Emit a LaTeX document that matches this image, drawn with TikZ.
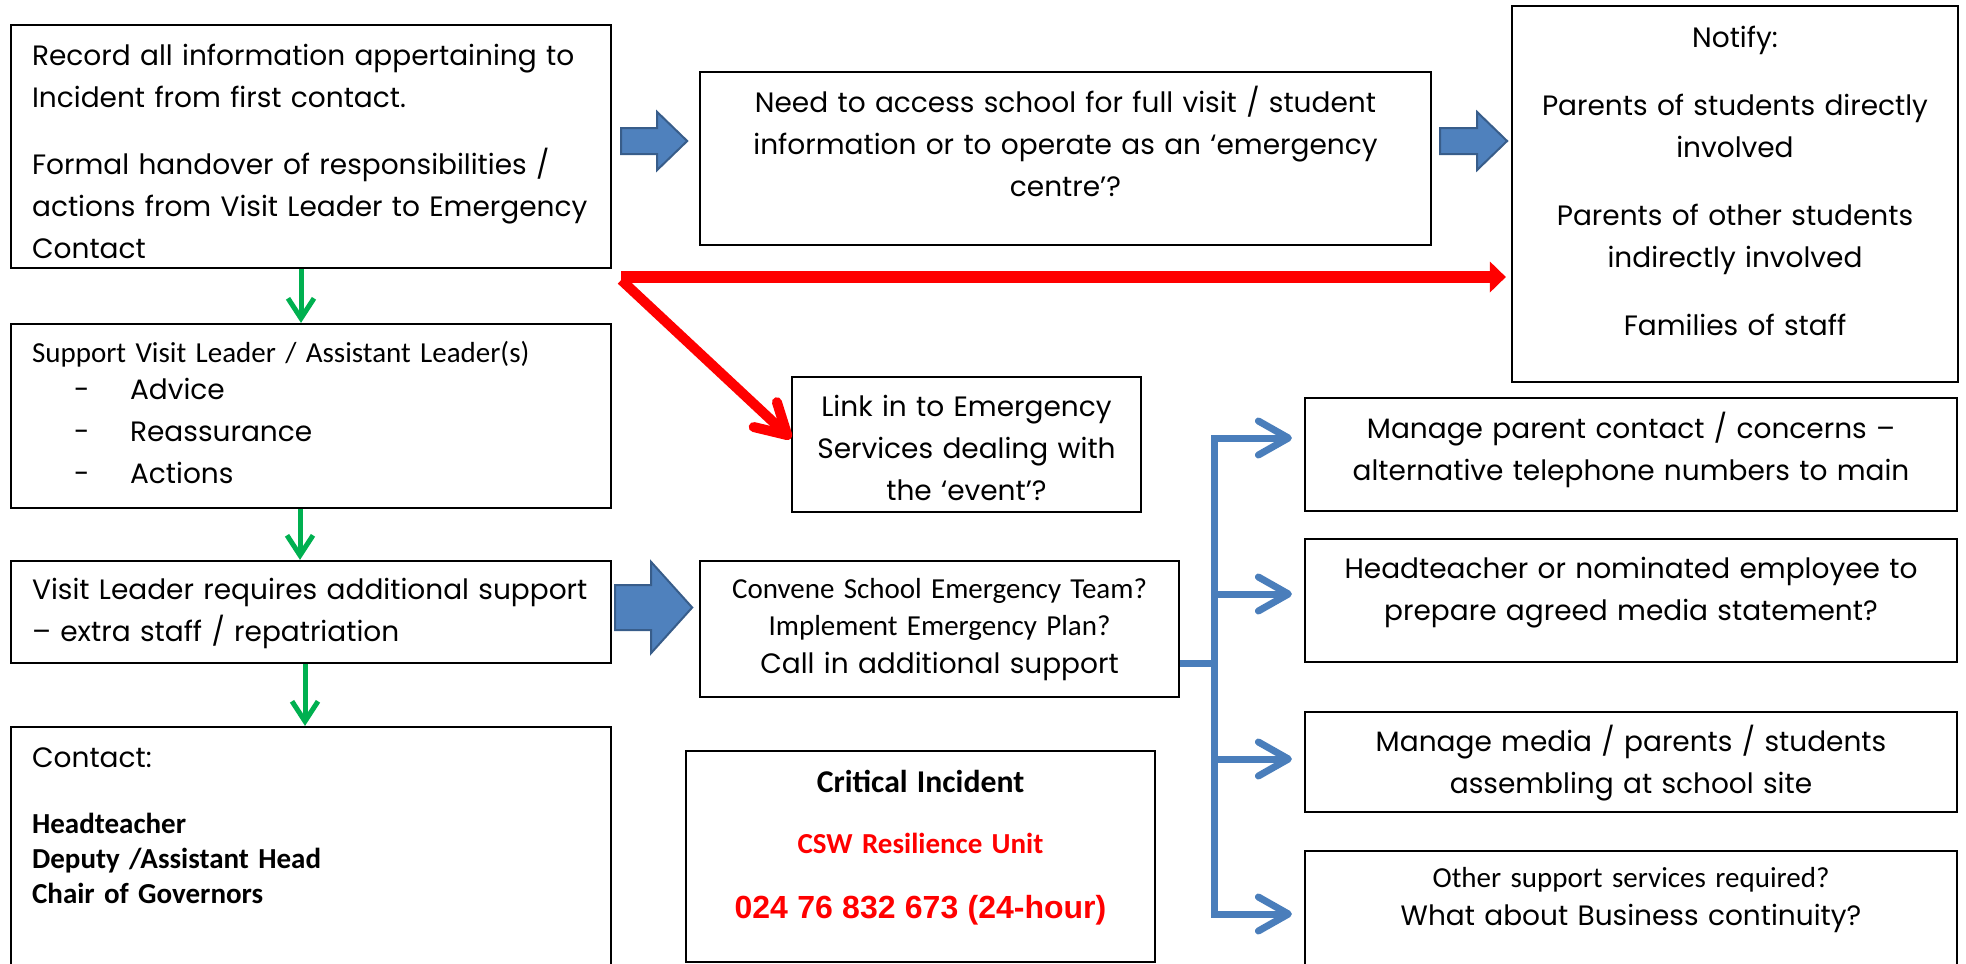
\documentclass[tikz,border=0pt]{standalone}
\usepackage{fontspec}
\setmainfont{Poppins}
\newfontfamily\calibfont{Carlito}
\newfontfamily\arialfont{Liberation Sans}
\usetikzlibrary{arrows.meta}

\definecolor{blockblue}{HTML}{4F81BD}
\definecolor{blockedge}{HTML}{385D8A}
\definecolor{linkblue}{HTML}{4A7EBB}
\definecolor{arrowgreen}{HTML}{00B050}
\definecolor{alarmred}{HTML}{FF0000}

\newcommand\gothic{\fontsize{28}{42}\selectfont}
\newcommand\calib{\calibfont\fontsize{29}{42}\selectfont}

\begin{document}
\begin{tikzpicture}[
        x=1pt, y=-1pt,
        box/.style={draw, line width=2.2pt, inner ysep=0pt, font=\gothic},
        lbox/.style={box, align=left, anchor=base west, inner xsep=21pt, text width=558pt},
        cbox/.style={box, align=center, anchor=base, inner xsep=10pt},
        blockarrow/.style={fill=blockblue, draw=blockedge, line width=2pt, line join=miter},
        greenarrow/.style={draw=arrowgreen, line width=5pt, -{Straight Barb[length=20pt,width=26pt]}},
        bluelink/.style={draw=linkblue, line width=7pt},
        bluearrow/.style={bluelink, -{Straight Barb[length=30pt,width=34pt,round]}},
        redarrow/.style={draw=alarmred, line width=12pt, -{Triangle[length=16pt,width=30pt]}},
        reddiag/.style={draw=alarmred, line width=10pt, -{Straight Barb[length=30pt,width=34pt,round]}}
      ]
      \useasboundingbox (0,0) rectangle (1966,964);

      % left column
      \node[lbox, text height=40pt, text depth=203pt] (rec) at (10,65)
        {Record all information appertaining to\\Incident from first contact.\\[25pt]
         Formal handover of responsibilities /\\actions from Visit Leader to Emergency\\Contact};
      \node[lbox, text height=38pt, text depth=146pt] (sup) at (10,362)
        {{\calib Support Visit Leader / Assistant Leader(s)}\\[-5pt]
         \hspace*{42pt}\makebox[56pt][l]{-}Advice\\
         \hspace*{42pt}\makebox[56pt][l]{-}Reassurance\\
         \hspace*{42pt}\makebox[56pt][l]{-}Actions};
      \node[lbox, text height=38pt, text depth=64pt] (vlr) at (10,599)
        {Visit Leader requires additional support\\– extra staff / repatriation};
      \node[lbox, text height=40pt, text depth=223pt] (contact) at (10,767)
        {Contact:\\[31pt]
         {\calibfont\bfseries\fontsize{29}{35}\selectfont Headteacher\\Deputy /Assistant Head\\Chair of Governors\par}};

      % middle column
      \node[cbox, text width=711pt, text height=40pt, text depth=133pt] (acc) at (1065.5,112)
        {Need to access school for full visit / student\\information or to operate as an ‘emergency\\centre’?};
      \node[cbox, text width=329pt, text height=39pt, text depth=96pt] (link) at (966.5,416)
        {Link in to Emergency\\Services dealing with\\the ‘event’?};
      \node[cbox, text width=459pt, text height=37pt, text depth=99pt] (conv) at (939.5,598)
        {{\calib Convene School Emergency Team?}\\[-5pt]
         {\calib Implement Emergency Plan?}\\[-4pt]
         Call in additional support};
      \node[cbox, text width=449pt, text height=41pt, text depth=170pt] (crit) at (920.5,792)
        {{\calibfont\bfseries\fontsize{31.7}{42}\selectfont Critical Incident}\\[19pt]
         {\calibfont\bfseries\fontsize{29}{42}\selectfont\color{alarmred}CSW Resilience Unit}\\[23pt]
         {\arialfont\bfseries\fontsize{32}{42}\selectfont\color{alarmred}024 76 832 673 (24-hour)}};

      % right column
      \node[cbox, text width=426pt, text height=41pt, text depth=335pt] (notify) at (1735,47)
        {Notify:\\[26pt]
         Parents of students directly\\involved\\[26pt]
         Parents of other students\\indirectly involved\\[26pt]
         Families of staff};
      \node[cbox, text width=632pt, text height=40pt, text depth=73pt] (mpc) at (1631,438)
        {Manage parent contact / concerns –\\alternative telephone numbers to main};
      \node[cbox, text width=632pt, text height=39pt, text depth=84pt] (head) at (1631,578)
        {Headteacher or nominated employee to\\prepare agreed media statement?};
      \node[cbox, text width=632pt, text height=39pt, text depth=61pt] (media) at (1631,751)
        {Manage media / parents / students\\assembling at school site};
      \node[cbox, text width=632pt, text height=36pt, text depth=103pt] (other) at (1631,887)
        {{\calib Other support services required?}\\[-4pt]
         What about Business continuity?};

      % block arrows
      \draw[blockarrow] ([xshift=9pt]rec.east |- 0,128) -- ++(36,0) -- ++(0,-16) -- ++(30,29)
        -- ++(-30,29) -- ++(0,-16) -- ++(-36,0) -- cycle;
      \draw[blockarrow] ([xshift=8pt]acc.east |- 0,128) -- ++(37,0) -- ++(0,-16) -- ++(30,29)
        -- ++(-30,29) -- ++(0,-16) -- ++(-37,0) -- cycle;
      \draw[blockarrow] ([xshift=3pt]vlr.east |- 0,585) -- ++(36,0) -- ++(0,-23) -- ++(41,45.5)
        -- ++(-41,45.5) -- ++(0,-23) -- ++(-36,0) -- cycle;

      % red arrows
      \draw[redarrow] ([xshift=9pt]rec.east |- 0,277) -- ([xshift=-5pt]notify.west |- 0,277);
      \draw[reddiag] ([xshift=9pt]rec.east |- 0,280) -- ([yshift=6pt]link.west);

      % green arrows
      \draw[greenarrow] (rec.south -| 301,0) -- (sup.north -| 301,0);
      \draw[greenarrow] (sup.south -| 300,0) -- (vlr.north -| 300,0);
      \draw[greenarrow] (vlr.south -| 305,0) -- (contact.north -| 305,0);

      % blue connectors
      \coordinate (hub) at (1214,663);
      \draw[bluelink] (conv.east |- hub) -- (hub);
      \draw[bluearrow] (hub) |- ([xshift=-12pt]mpc.west |- 0,438);
      \draw[bluearrow] (hub) |- ([xshift=-12pt]head.west |- 0,594);
      \draw[bluearrow] (hub) |- ([xshift=-12pt]media.west |- 0,759);
      \draw[bluearrow] (hub) |- ([xshift=-12pt]other.west |- 0,914);
\end{tikzpicture}
\end{document}
